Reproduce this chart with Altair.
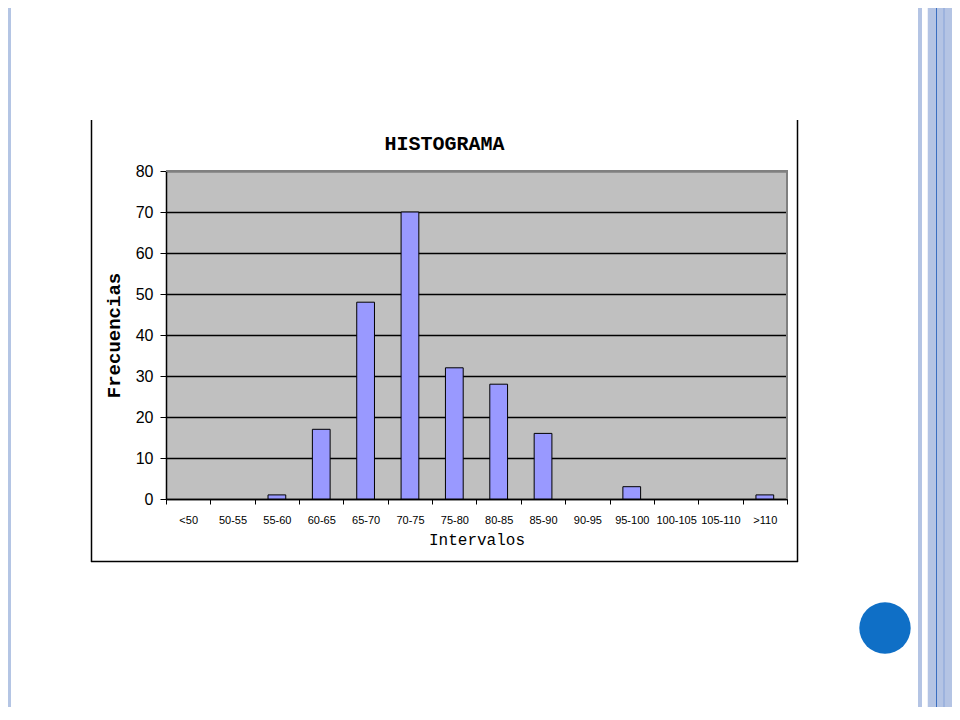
import altair as alt
import pandas as pd

# ---- data ----
categories = ["<50", "50-55", "55-60", "60-65", "65-70", "70-75", "75-80",
              "80-85", "85-90", "90-95", "95-100", "100-105", "105-110", ">110"]
frequencies = [0, 0, 1, 17, 48, 70, 32, 28, 16, 0, 3, 0, 0, 1]
y_ticks = [0, 10, 20, 30, 40, 50, 60, 70, 80]

df = pd.DataFrame({"Intervalo": categories, "Frecuencia": frequencies})
one = pd.DataFrame({"k": [0]})

W, H = 621, 328
PAD_L, PAD_T, PAD_R, PAD_B = 158, 163, 165, 208
narrow = "Liberation Sans, Arial, sans-serif"
mono = "Liberation Mono, Courier New, DejaVu Sans Mono, monospace"

bars = alt.Chart(df).mark_bar(
    color="#9999FF", stroke="black", strokeWidth=1,
    width=alt.RelativeBandSize(0.4)
).encode(
    x=alt.X("Intervalo:N", sort=categories,
            scale=alt.Scale(paddingInner=0, paddingOuter=0),
            axis=alt.Axis(title="Intervalos", labelAngle=0, tickBand="extent",
                          grid=False, domainColor="black", domainWidth=1.5,
                          tickColor="black", tickSize=5, tickWidth=1,
                          labelFont=narrow, labelFontSize=11, labelColor="black",
                          labelPadding=10, titleFont=mono, titleFontSize=16,
                          titleFontWeight="normal", titleColor="black",
                          titlePadding=6)),
    y=alt.Y("Frecuencia:Q", scale=alt.Scale(domain=[0, 80], nice=False),
            axis=alt.Axis(title="Frecuencias", values=y_ticks, grid=True,
                          gridColor="black", gridWidth=1.5,
                          domainColor="black", domainWidth=1.5,
                          tickColor="black", tickSize=6, tickWidth=1,
                          labelFont=narrow, labelFontSize=16, labelColor="black",
                          labelPadding=7, titleFont=mono, titleFontSize=19,
                          titleFontWeight="bold", titleColor="black",
                          titlePadding=12)),
    strokeOpacity=alt.condition("datum.Frecuencia > 0", alt.value(1), alt.value(0)),
)


def vrule(x, y1, y2, color, w):
    return alt.Chart(one).mark_rule(color=color, strokeWidth=w).encode(
        x=alt.value(x), y=alt.value(y1), y2=alt.value(y2))


def hrule(y, x1, x2, color, w):
    return alt.Chart(one).mark_rule(color=color, strokeWidth=w).encode(
        y=alt.value(y), x=alt.value(x1), x2=alt.value(x2))


top_svg = -PAD_T
bot_svg = H + PAD_B

layers = [
    bars,
    # plot-area border (grey, top and right)
    hrule(0, 0, W + 1, "#808080", 2),
    vrule(W, 0, H, "#808080", 2),
    # chart-area border (black)
    vrule(-74.5, -51, 391, "black", 1.5),
    vrule(631.5, -51, 391, "black", 1.5),
    hrule(390.5, -75, 632, "black", 1.5),
    # chart title
    alt.Chart(one).mark_text(text="HISTOGRAMA", font=mono, fontSize=20,
                             fontWeight="bold", align="center",
                             baseline="alphabetic", color="black").encode(
        x=alt.value(278.5), y=alt.value(-21)),
    # slide decorations
    vrule(-158, top_svg, bot_svg, "#B4C5E4", 6),
    vrule(-159.5, top_svg, bot_svg, "#D3DEF0", 2),
    vrule(754, top_svg, bot_svg, "#B4C4E4", 4),
    vrule(774, top_svg, bot_svg, "#B4C4E4", 24.5),
    vrule(770.5, top_svg, bot_svg, "#3A6EC0", 1),
    vrule(778, top_svg, bot_svg, "#9DB3DE", 2),
    alt.Chart(one).mark_circle(color="#0F6FC6", opacity=1, size=2642).encode(
        x=alt.value(719), y=alt.value(457)),
]

chart = alt.layer(*layers).properties(
    width=W, height=H,
    autosize=alt.AutoSizeParams(type="none"),
    padding={"left": PAD_L, "top": PAD_T, "right": PAD_R, "bottom": PAD_B},
    background="white",
).configure_view(fill="#C0C0C0", stroke=None)

chart.save("out.html", embed_options={"renderer": "svg", "actions": False})
